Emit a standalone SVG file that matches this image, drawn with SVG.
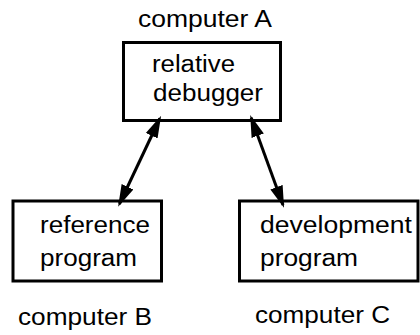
<svg xmlns="http://www.w3.org/2000/svg" width="420" height="335" viewBox="0 0 420 335">
<style>
.box{fill:#fff;stroke:#000;stroke-width:3}
.t{font-family:"Liberation Sans",Arial,sans-serif;font-size:23px;fill:#000}
.c{stroke:#000;stroke-width:3;fill:none}
</style>
<defs>
<marker id="ah" markerUnits="userSpaceOnUse" markerWidth="22" markerHeight="14" viewBox="0 0 22 14" refX="19" refY="7" orient="auto-start-reverse">
<path d="M0,0.5 L22,7 L0,13.5 z" fill="#000"/>
</marker>
</defs>
<rect width="420" height="335" fill="#fff"/>
<g id="nodeA">
<rect class="box" x="123.5" y="42.5" width="157" height="78"/>
<text class="t" x="138" y="27" textLength="134" lengthAdjust="spacingAndGlyphs">computer A</text>
<text class="t" x="152" y="72" textLength="83" lengthAdjust="spacingAndGlyphs">relative</text>
<text class="t" x="153" y="101" textLength="110" lengthAdjust="spacingAndGlyphs">debugger</text>
</g>
<g id="nodeB">
<rect class="box" x="13" y="201" width="148.5" height="80"/>
<text class="t" x="40" y="233" textLength="110" lengthAdjust="spacingAndGlyphs">reference</text>
<text class="t" x="40" y="266" textLength="97" lengthAdjust="spacingAndGlyphs">program</text>
<text class="t" x="18" y="325" textLength="134" lengthAdjust="spacingAndGlyphs">computer B</text>
</g>
<g id="nodeC">
<rect class="box" x="239.5" y="201" width="178.5" height="80"/>
<text class="t" x="260" y="233" textLength="152" lengthAdjust="spacingAndGlyphs">development</text>
<text class="t" x="260" y="266" textLength="98" lengthAdjust="spacingAndGlyphs">program</text>
<text class="t" x="255" y="323" textLength="135" lengthAdjust="spacingAndGlyphs">computer C</text>
</g>
<g id="connectors">
<line class="c" x1="159.8" y1="118.5" x2="119.4" y2="204" marker-start="url(#ah)" marker-end="url(#ah)"/>
<line class="c" x1="251.2" y1="117.8" x2="283" y2="205" marker-start="url(#ah)" marker-end="url(#ah)"/>
</g>
</svg>
